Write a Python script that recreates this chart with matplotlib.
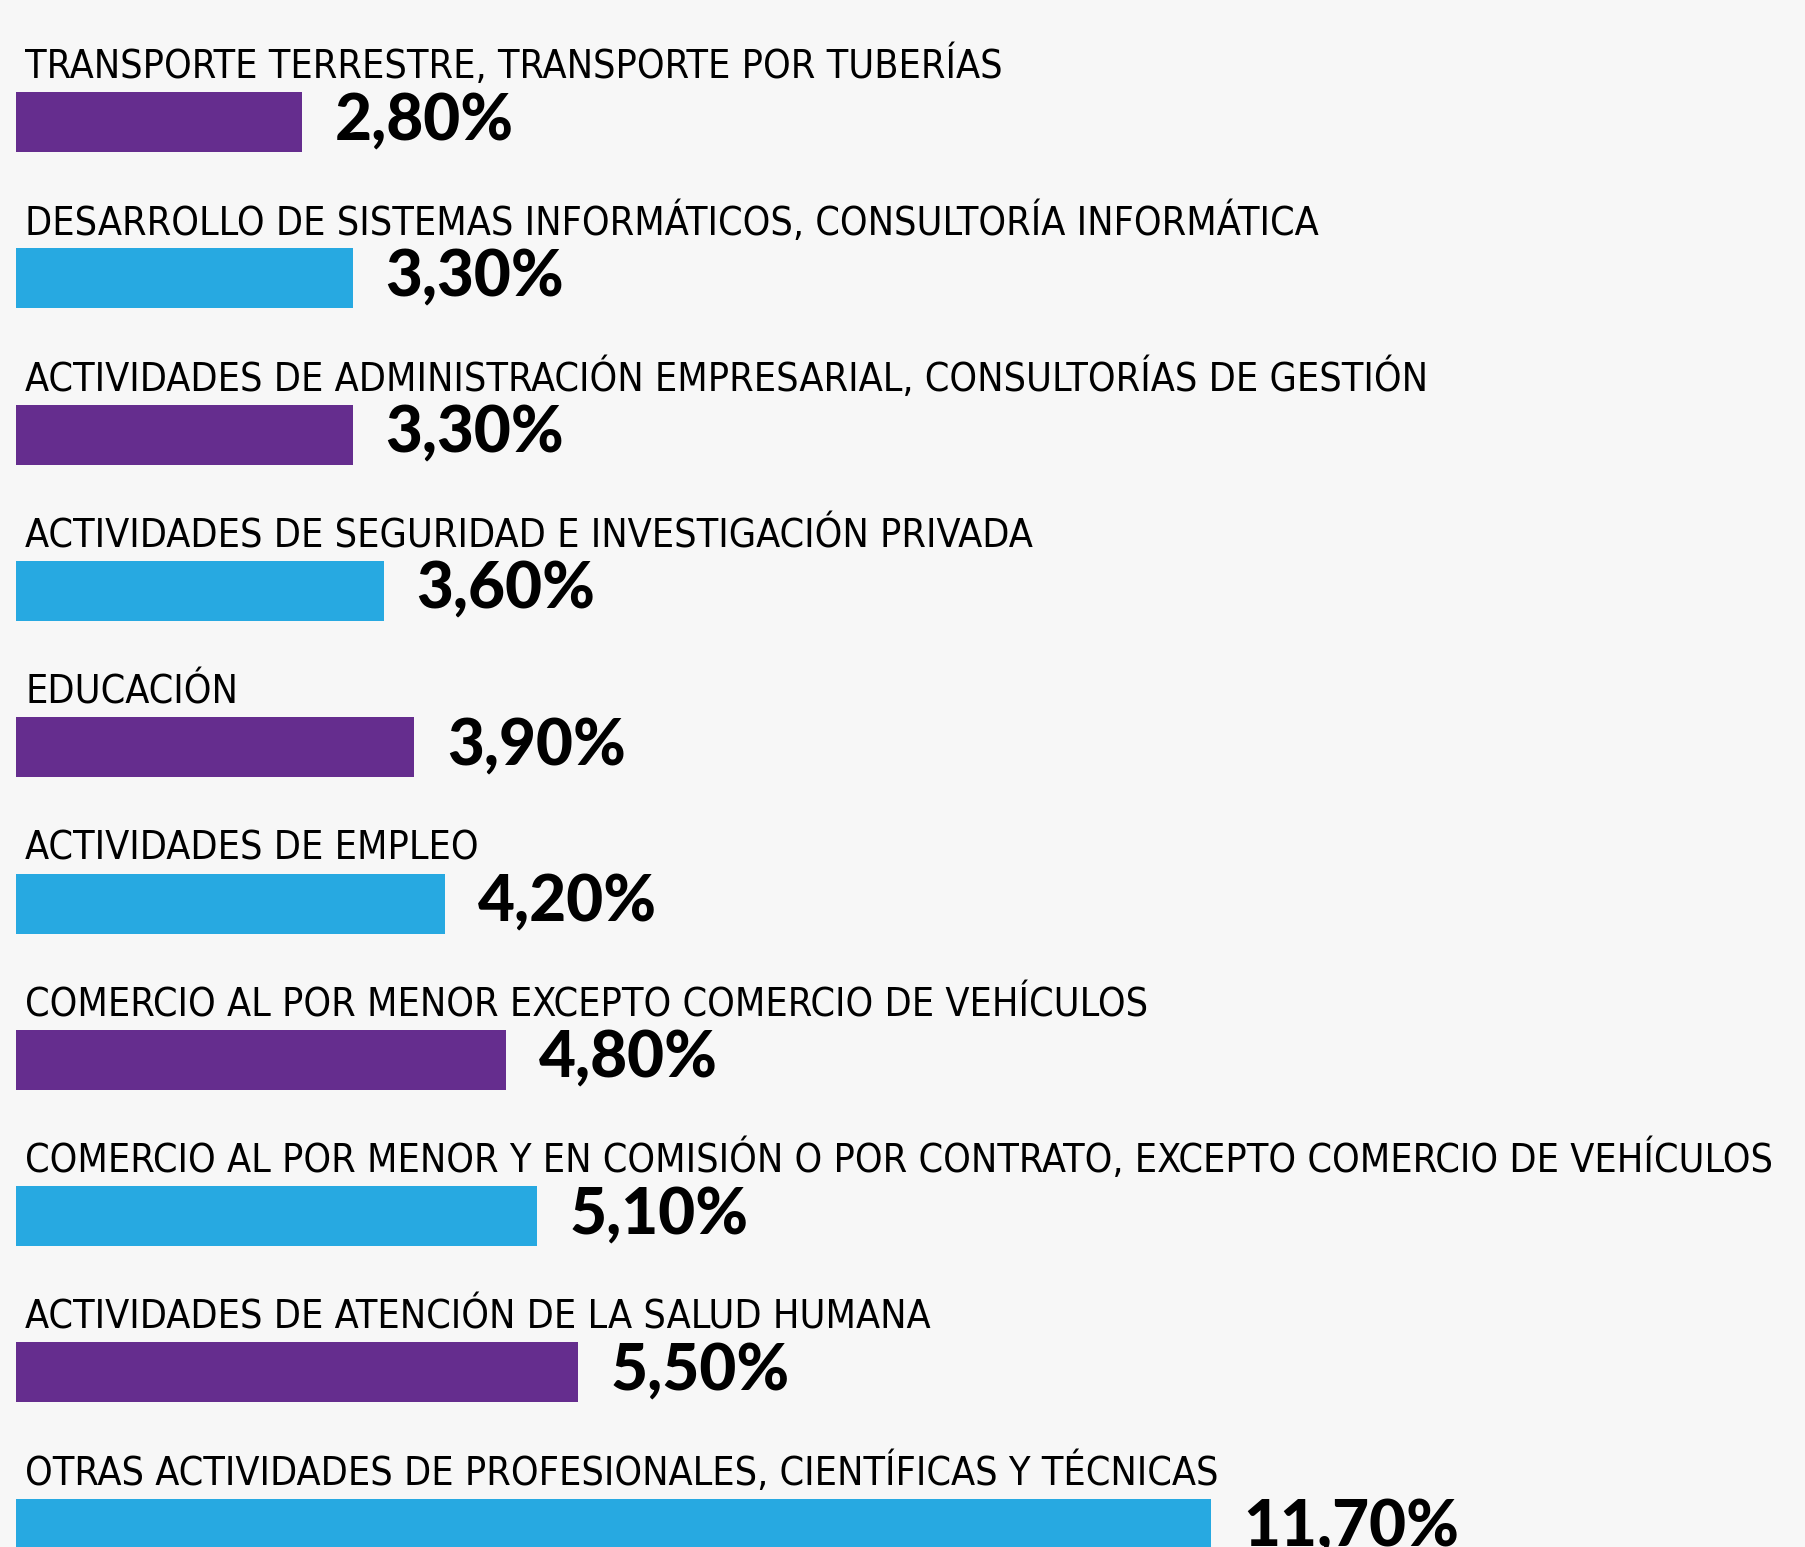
import matplotlib.pyplot as plt
from matplotlib import font_manager

# data
categories = [
    "TRANSPORTE TERRESTRE, TRANSPORTE POR TUBERÍAS",
    "DESARROLLO DE SISTEMAS INFORMÁTICOS, CONSULTORÍA INFORMÁTICA",
    "ACTIVIDADES DE ADMINISTRACIÓN EMPRESARIAL, CONSULTORÍAS DE GESTIÓN",
    "ACTIVIDADES DE SEGURIDAD E INVESTIGACIÓN PRIVADA",
    "EDUCACIÓN",
    "ACTIVIDADES DE EMPLEO",
    "COMERCIO AL POR MENOR EXCEPTO COMERCIO DE VEHÍCULOS",
    "COMERCIO AL POR MENOR Y EN COMISIÓN O POR CONTRATO, EXCEPTO COMERCIO DE VEHÍCULOS",
    "ACTIVIDADES DE ATENCIÓN DE LA SALUD HUMANA",
    "OTRAS ACTIVIDADES DE PROFESIONALES, CIENTÍFICAS Y TÉCNICAS",
]
values = [2.8, 3.3, 3.3, 3.6, 3.9, 4.2, 4.8, 5.1, 5.5, 11.7]
value_labels = ["2,80%", "3,30%", "3,30%", "3,60%", "3,90%",
                "4,20%", "4,80%", "5,10%", "5,50%", "11,70%"]

purple = "#652d8e"
blue = "#27a9e1"
bg = "#f7f7f7"

# condensed face for the category labels (DejaVu Sans Condensed if present)
narrow = None
for f in font_manager.fontManager.ttflist:
    if f.name == "DejaVu Sans" and f.stretch == "condensed" and f.weight in ("normal", 400) and f.style == "normal":
        narrow = f
        break

if narrow is not None:
    label_prop = font_manager.FontProperties(fname=narrow.fname, size=28.3)
else:
    label_prop = font_manager.FontProperties(family="DejaVu Sans", size=24)

fig = plt.figure(figsize=(18.05, 15.47), dpi=100, facecolor=bg)
ax = fig.add_axes([0, 0, 1, 1])
ax.set_facecolor(bg)

ys = list(range(len(values)))
colors = [purple if i % 2 == 0 else blue for i in ys]
ax.barh(ys, values, height=0.384, color=colors, left=0)

for i, (cat, v, lab) in enumerate(zip(categories, values, value_labels)):
    ax.text(0.09, i - 0.28, cat, fontproperties=label_prop,
            va="baseline", ha="left", color="black")
    ax.text(v + 0.32, i + 0.115, lab, fontsize=46, family=["Lato", "DejaVu Sans"],
            fontweight="black", va="baseline", ha="left", color="black")

ax.set_xlim(-0.157, 17.52)
ax.set_ylim(9.117, -0.781)
ax.axis("off")

fig.savefig("out.png", dpi=100, facecolor=bg)
